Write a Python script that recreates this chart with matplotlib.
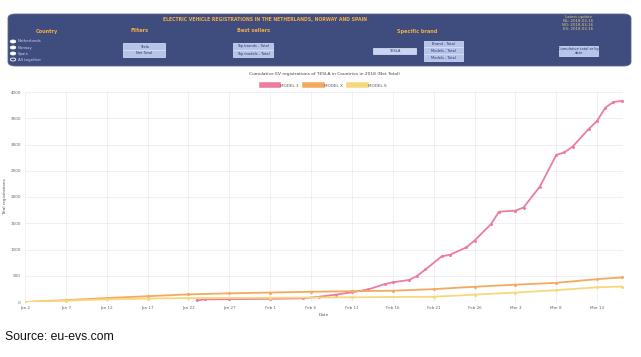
import matplotlib
matplotlib.use("Agg")
import matplotlib.pyplot as plt
from matplotlib.patches import FancyBboxPatch, Circle, Rectangle
import pandas as pd

# data (cumulative registrations, 2018)
model3_dates = ["2018-01-23", "2018-01-24", "2018-01-27", "2018-02-01", "2018-02-05",
                "2018-02-07", "2018-02-09", "2018-02-11", "2018-02-13", "2018-02-15",
                "2018-02-16", "2018-02-18", "2018-02-19", "2018-02-20", "2018-02-22",
                "2018-02-23", "2018-02-25", "2018-02-26", "2018-02-28", "2018-03-01",
                "2018-03-03", "2018-03-04", "2018-03-06", "2018-03-08", "2018-03-09",
                "2018-03-10", "2018-03-12", "2018-03-13", "2018-03-14", "2018-03-15",
                "2018-03-16"]
model3_vals = [30, 50, 55, 60, 70, 100, 140, 185, 240, 340, 375, 420, 500, 620, 870,
               900, 1040, 1170, 1480, 1720, 1740, 1800, 2200, 2800, 2850, 2960, 3300,
               3450, 3700, 3810, 3830]

modelx_dates = ["2018-01-02", "2018-01-07", "2018-01-12", "2018-01-17", "2018-01-22",
                "2018-01-27", "2018-02-01", "2018-02-06", "2018-02-11", "2018-02-16",
                "2018-02-21", "2018-02-26", "2018-03-03", "2018-03-08", "2018-03-13",
                "2018-03-16"]
modelx_vals = [0, 35, 75, 110, 145, 165, 180, 195, 205, 215, 245, 290, 330, 365, 435, 468]

models_dates = ["2018-01-02", "2018-01-07", "2018-01-12", "2018-01-17", "2018-01-22",
                "2018-02-01", "2018-02-11", "2018-02-21", "2018-02-26", "2018-03-03",
                "2018-03-08", "2018-03-13", "2018-03-16"]
models_vals = [0, 25, 50, 65, 75, 80, 90, 100, 140, 180, 225, 280, 295]

series_names = ["MODEL 3", "MODEL X", "MODEL S"]
series_colors = ["#ec7d9c", "#f5a95e", "#f8d77c"]

countries = ["Netherlands", "Norway", "Spain", "All together"]
updates = ["NL: 2018-03-16", "NO: 2018-03-16", "ES: 2018-03-16"]

W, H = 641, 357
fig = plt.figure(figsize=(W / 100, H / 100), dpi=100)


def fx(x):
    return x / W


def fy(y):
    return 1 - y / H


def box(x0, y0, x1, y1, text, fill="#b7c4ea", fs=2.6):
    p = Rectangle((fx(x0), fy(y1)), fx(x1) - fx(x0), fy(y0) - fy(y1),
                  transform=fig.transFigure, facecolor=fill,
                  edgecolor="#dfe6fa", lw=0.5)
    fig.add_artist(p)
    fig.text(fx((x0 + x1) / 2), fy((y0 + y1) / 2), text, fontsize=fs,
             color="#2a3566", ha="center", va="center", linespacing=1.0)


# header panel
panel = FancyBboxPatch((fx(8), fy(66)), fx(631) - fx(8), fy(14) - fy(66),
                       boxstyle="round,pad=0,rounding_size=0.012",
                       transform=fig.transFigure, facecolor="#3f4c7e",
                       edgecolor="#5a6795", lw=0.6)
fig.add_artist(panel)
orange = "#f2ac48"
fig.text(fx(265), fy(19), "ELECTRIC VEHICLE REGISTRATIONS IN THE NETHERLANDS, NORWAY AND SPAIN",
         fontsize=3.3, color=orange, ha="center", va="center", fontweight="bold")
for lbl, x in [("Country", 47), ("Filters", 140), ("Best sellers", 254), ("Specific brand", 417)]:
    fig.text(fx(x), fy(31), lbl, fontsize=3.6, color=orange, ha="center", va="center",
             fontweight="bold")
fig.text(fx(578), fy(17), "Latest update", fontsize=2.8, color="#e9c98a", ha="center", va="center")
for i, u in enumerate(updates):
    fig.text(fx(578), fy(21.5 + 4 * i), u, fontsize=2.8, color="#e9c98a", ha="center", va="center")

for i, c in enumerate(countries):
    y = 41.5 + 6 * i
    fig.add_artist(Circle((fx(13), fy(y)), 0.0042, transform=fig.transFigure,
                          facecolor="white" if i < 3 else "#3f4c7e",
                          edgecolor="white", lw=0.6))
    fig.text(fx(18), fy(y), c, fontsize=2.8, color="#c9d3f2", ha="left", va="center")

box(123, 43, 165, 50, "Tesla")
box(123, 50, 165, 57, "Net Total")
box(233, 43, 273, 49.5, "Top brands - Total")
box(233, 50.5, 273, 57, "Top models - Total")
box(373, 48, 416, 54, "TESLA", fill="#c9d3f2")
box(424, 41, 463, 47, "Brand - Total")
box(424, 47.5, 463, 54, "Models - Total")
box(424, 54.5, 463, 61, "Models - Total")
box(559, 46, 598, 56, "Cumulative total or by\ndate")

# chart
ax = fig.add_axes([fx(25), fy(302), fx(623) - fx(25), fy(92) - fy(302)])
for dates, vals, name, col in zip([model3_dates, modelx_dates, models_dates],
                                  [model3_vals, modelx_vals, models_vals],
                                  series_names, series_colors):
    ax.plot(pd.to_datetime(dates), vals, color=col, lw=1.3, marker="o",
            markersize=1.2, label=name)

ax.set_ylim(0, 4000)
ax.set_yticks(range(0, 4001, 500))
ax.set_xlim(pd.Timestamp("2018-01-02"), pd.Timestamp("2018-03-16 04:00"))
ticks = pd.date_range("2018-01-02", "2018-03-13", freq="5D")
ax.set_xticks(ticks)
ax.set_xticklabels([t.strftime("%b ") + str(t.day) for t in ticks])
ax.grid(True, color="#ececf2", lw=0.6)
for s in ax.spines.values():
    s.set_visible(False)
ax.tick_params(labelsize=3, colors="#666666", length=0, pad=3)
ax.set_xlabel("Date", fontsize=3.2, color="#555555", labelpad=2)
ax.set_ylabel("Total registrations", fontsize=3.0, color="#555555", labelpad=2)

ax.text(0.5, 1.085, "Cumulative EV registrations of TESLA in Countries in 2018 (Net Total)",
        transform=ax.transAxes, fontsize=3.2, color="#444444", ha="center", va="center")
leg = ax.legend(loc="lower center", bbox_to_anchor=(0.5, 1.0), ncol=3, frameon=False,
                fontsize=3, handlelength=4, handleheight=1.2, columnspacing=1.5,
                handletextpad=0.5)
for h in leg.legend_handles:
    h.set_linewidth(4)
    h.set_marker("")
for t in leg.get_texts():
    t.set_color("#555555")

fig.text(fx(5), fy(337), "Source: eu-evs.com", fontsize=8.8, family="Liberation Sans",
         color="#111111", ha="left", va="center")

fig.savefig("out.png", dpi=100)
